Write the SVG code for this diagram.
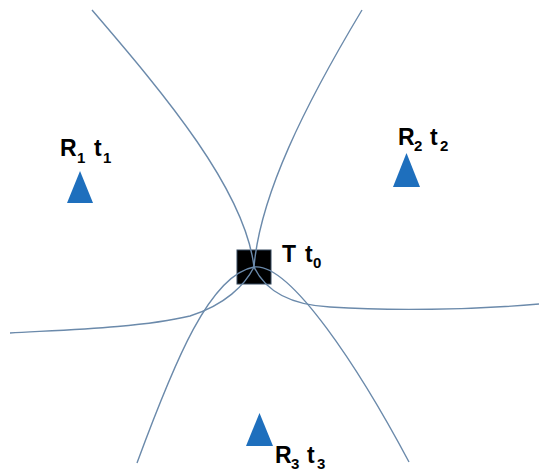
<svg xmlns="http://www.w3.org/2000/svg" width="539" height="472" viewBox="0 0 539 472">
<style>
.curve{fill:none;stroke:#6b8aab;stroke-width:1.4}
.rx{fill:#1e6fbd}
.lbl{font-family:"Liberation Sans",Arial,sans-serif;font-weight:bold;font-size:23px;fill:#000}
.sub{font-size:15px}
</style>
<rect width="539" height="472" fill="#fff"/>
<g id="T">
<rect x="237" y="250" width="34" height="34" fill="#000" stroke="#34495e" stroke-width="1"/>
</g>
<g id="connectors">
<path class="curve" d="M92,10 C165,95 245,190 254,267 C245,285 225,305 190,316 C140,328 60,330 10,333"/>
<path class="curve" d="M362,10 C305,105 260,195 254,267 C265,290 290,305 330,307 C390,311 470,310 539,304"/>
<path class="curve" d="M137,463 C175,360 210,275 254,267 C290,262 360,370 409,462"/>
</g>
<g id="T-label">
<text class="lbl" y="262"><tspan x="282">T</tspan><tspan x="305">t</tspan><tspan class="sub" x="313" y="268">0</tspan></text>
</g>
<g id="R1">
<polygon class="rx" points="67,203 80,171 93,203"/>
<text class="lbl" y="156"><tspan x="60">R</tspan><tspan class="sub" x="77" y="163">1</tspan><tspan x="94" y="156">t</tspan><tspan class="sub" x="103" y="163">1</tspan></text>
</g>
<g id="R2">
<polygon class="rx" points="393,187 406.5,153 420,187"/>
<text class="lbl" y="145"><tspan x="398">R</tspan><tspan class="sub" x="414" y="151">2</tspan><tspan x="430" y="145">t</tspan><tspan class="sub" x="440" y="151">2</tspan></text>
</g>
<g id="R3">
<polygon class="rx" points="246,446 259.5,413 273,446"/>
<text class="lbl" y="463"><tspan x="275">R</tspan><tspan class="sub" x="291" y="469">3</tspan><tspan x="307" y="463">t</tspan><tspan class="sub" x="317" y="469">3</tspan></text>
</g>
</svg>
